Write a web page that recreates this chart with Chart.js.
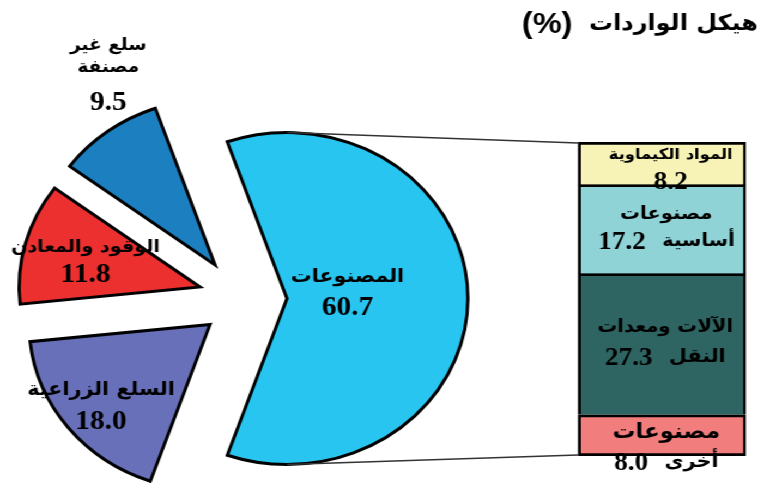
<!DOCTYPE html>
<html><head><meta charset="utf-8">
<script src="https://cdn.jsdelivr.net/npm/chart.js@4/dist/chart.umd.min.js"></script>
<style>
html,body{margin:0;padding:0;background:#fff;overflow:hidden;width:764px;height:484px}
#wrap{position:absolute;left:0;top:0;width:701px;height:484px;transform:scaleX(1.0899);transform-origin:0 0}
#wrap canvas{position:absolute;left:0;top:0}
</style></head><body>
<div id="wrap"><canvas id="pie" width="701" height="484"></canvas><canvas id="bar" width="701" height="484"></canvas></div>
<script>
// ---- data ----
const titleText = "هيكل الواردات";
const titleUnit = "(%)";
const pieCategories = ["المصنوعات", "السلع الزراعية", "الوقود والمعادن", "سلع غير\nمصنفة"];
const pieValues = [60.7, 18.0, 11.8, 9.5];
const barCategories = ["المواد الكيماوية", "مصنوعات\nأساسية", "الآلات ومعدات\nالنقل", "مصنوعات\nأخرى"];
const barValues = [8.2, 17.2, 27.3, 8.0];

// ---- styles ----
const pieColors = ["#28C5F1", "#6770B8", "#EC2F2F", "#1B7FC0"];
const pieExplode = [[0, 0], [-70.6, 26], [-79.8, -11.5], [-66, -33.5]];
const pieLabelLayout = [
  {dx: 55.5, dy: [-21.5, 9.5], ar: 19},
  {dx: -100, dy: [65.5, 97.5], ar: 19},
  {dx: -105, dy: [-40, -12], ar: 17.5},
  {dx: -98, dy: [-219, -197, -162], ar: 17}
];
const barColors = ["#F7F3B6", "#8FD3D7", "#2E6462", "#F17D7D"];
const barLabelLayout = [
  {dx: 8, dy: [-8.5, 19.5], ar: 15, ar2: 18},
  {dx: 4, dy: [-14.3, 12.7], ar: 18, ar2: 18},
  {dx: 3, dy: [-16.8, 13.2], ar: 18, ar2: 19},
  {dx: 4, dy: [-3, 27], ar: 21, ar2: 19}
];
const arFont = s => 'bold ' + s + 'px "DejaVu Sans", sans-serif';
const NUM_FONT = 'bold 27px "Liberation Serif", serif';
const BAR_NUM_FONT = 'bold 25px "Liberation Serif", serif';
const TITLE_FONT = 'bold 22px "DejaVu Sans", sans-serif';
const UNIT_FONT = 'bold 30px "Liberation Sans", "DejaVu Sans", sans-serif';
const MIX_GAP = 15;

const mainShare = pieValues[0] / pieValues.reduce((a, b) => a + b, 0);

const explodePlugin = {
  id: 'explode',
  afterDatasetsUpdate(chart) {
    chart.getDatasetMeta(0).data.forEach((arc, i) => {
      arc.x += pieExplode[i][0];
      arc.y += pieExplode[i][1];
    });
  },
  afterDatasetsDraw(chart) {
    const ctx = chart.ctx;
    ctx.save();
    ctx.direction = 'rtl';
    ctx.textAlign = 'center';
    ctx.textBaseline = 'middle';
    ctx.fillStyle = '#000';
    chart.getDatasetMeta(0).data.forEach((arc, i) => {
      const lines = pieCategories[i].split('\n').concat([pieValues[i].toFixed(1)]);
      const L = pieLabelLayout[i];
      lines.forEach((t, j) => {
        ctx.font = (j === lines.length - 1) ? NUM_FONT : arFont(L.ar);
        ctx.fillText(t, arc.x + L.dx, arc.y + L.dy[j]);
      });
    });
    ctx.textAlign = 'right';
    ctx.font = TITLE_FONT;
    ctx.fillText(titleText, 695.5, 24);
    ctx.textAlign = 'center';
    ctx.font = UNIT_FONT;
    ctx.fillText(titleUnit, 502, 25);
    ctx.restore();
  }
};

const pieChart = new Chart(document.getElementById('pie'), {
  type: 'pie',
  data: {
    labels: pieCategories,
    datasets: [{
      data: pieValues,
      backgroundColor: pieColors,
      borderColor: '#000',
      borderWidth: 3,
      borderJoinStyle: 'miter',
      clip: false
    }]
  },
  options: {
    responsive: false,
    animation: false,
    events: [],
    radius: 166,
    rotation: 90 - mainShare * 180,
    layout: {padding: {left: 0, right: 174.4, top: 113, bottom: 0}},
    plugins: {legend: {display: false}, tooltip: {enabled: false}, title: {display: false}}
  },
  plugins: [explodePlugin]
});

const barPlugin = {
  id: 'barExtras',
  beforeDatasetsDraw(chart) {
    const ctx = chart.ctx;
    const main = pieChart.getDatasetMeta(0).data[0];
    const n = barValues.length;
    const first = chart.getDatasetMeta(0).data[0];
    const last = chart.getDatasetMeta(n - 1).data[0];
    const left = first.x - first.width / 2;
    const top = Math.min(first.y, first.base);
    const bottom = Math.max(last.y, last.base);
    ctx.save();
    ctx.strokeStyle = '#333';
    ctx.lineWidth = 1.5;
    ctx.beginPath();
    ctx.moveTo(main.x, main.y - main.outerRadius);
    ctx.lineTo(left, top + 1);
    ctx.moveTo(main.x, main.y + main.outerRadius);
    ctx.lineTo(left, bottom - 1);
    ctx.stroke();
    ctx.restore();
  },
  afterDatasetsDraw(chart) {
    const ctx = chart.ctx;
    ctx.save();
    ctx.direction = 'ltr';
    ctx.textBaseline = 'middle';
    ctx.fillStyle = '#000';
    barValues.forEach((v, i) => {
      const el = chart.getDatasetMeta(i).data[0];
      const cy = (el.y + el.base) / 2;
      const cx = el.x + barLabelLayout[i].dx;
      const parts = barCategories[i].split('\n');
      const L = barLabelLayout[i];
      // first line: category name
      ctx.textAlign = 'center';
      ctx.font = arFont(L.ar);
      ctx.fillText(parts[0], cx, cy + L.dy[0]);
      // second line: remaining name (right) + value (left), RTL order
      const num = v.toFixed(1);
      ctx.font = BAR_NUM_FONT;
      const wN = ctx.measureText(num).width;
      if (parts.length > 1) {
        ctx.font = arFont(L.ar2);
        const wA = ctx.measureText(parts[1]).width;
        const x0 = cx - (wN + MIX_GAP + wA) / 2;
        ctx.textAlign = 'left';
        ctx.fillText(parts[1], x0 + wN + MIX_GAP, cy + L.dy[1]);
        ctx.font = BAR_NUM_FONT;
        ctx.fillText(num, x0, cy + L.dy[1] + 1);
      } else {
        ctx.textAlign = 'center';
        ctx.font = BAR_NUM_FONT;
        ctx.fillText(num, cx, cy + L.dy[1]);
      }
    });
    ctx.restore();
  }
};

new Chart(document.getElementById('bar'), {
  type: 'bar',
  data: {
    labels: [''],
    datasets: barValues.map((v, i) => ({
      label: barCategories[i],
      data: [v],
      backgroundColor: barColors[i],
      borderColor: '#000',
      borderWidth: {top: 3, left: 3, right: 3, bottom: i === barValues.length - 1 ? 3 : 0},
      borderSkipped: false,
      barPercentage: 1,
      categoryPercentage: 1
    }))
  },
  options: {
    responsive: false,
    animation: false,
    events: [],
    layout: {padding: {left: 530.3, right: 16.5, top: 142, bottom: 28}},
    scales: {
      x: {display: false, stacked: true},
      y: {display: false, stacked: true, reverse: true, min: 0, max: barValues.reduce((a, b) => a + b, 0)}
    },
    plugins: {legend: {display: false}, tooltip: {enabled: false}, title: {display: false}}
  },
  plugins: [barPlugin]
});
</script>
</body></html>
